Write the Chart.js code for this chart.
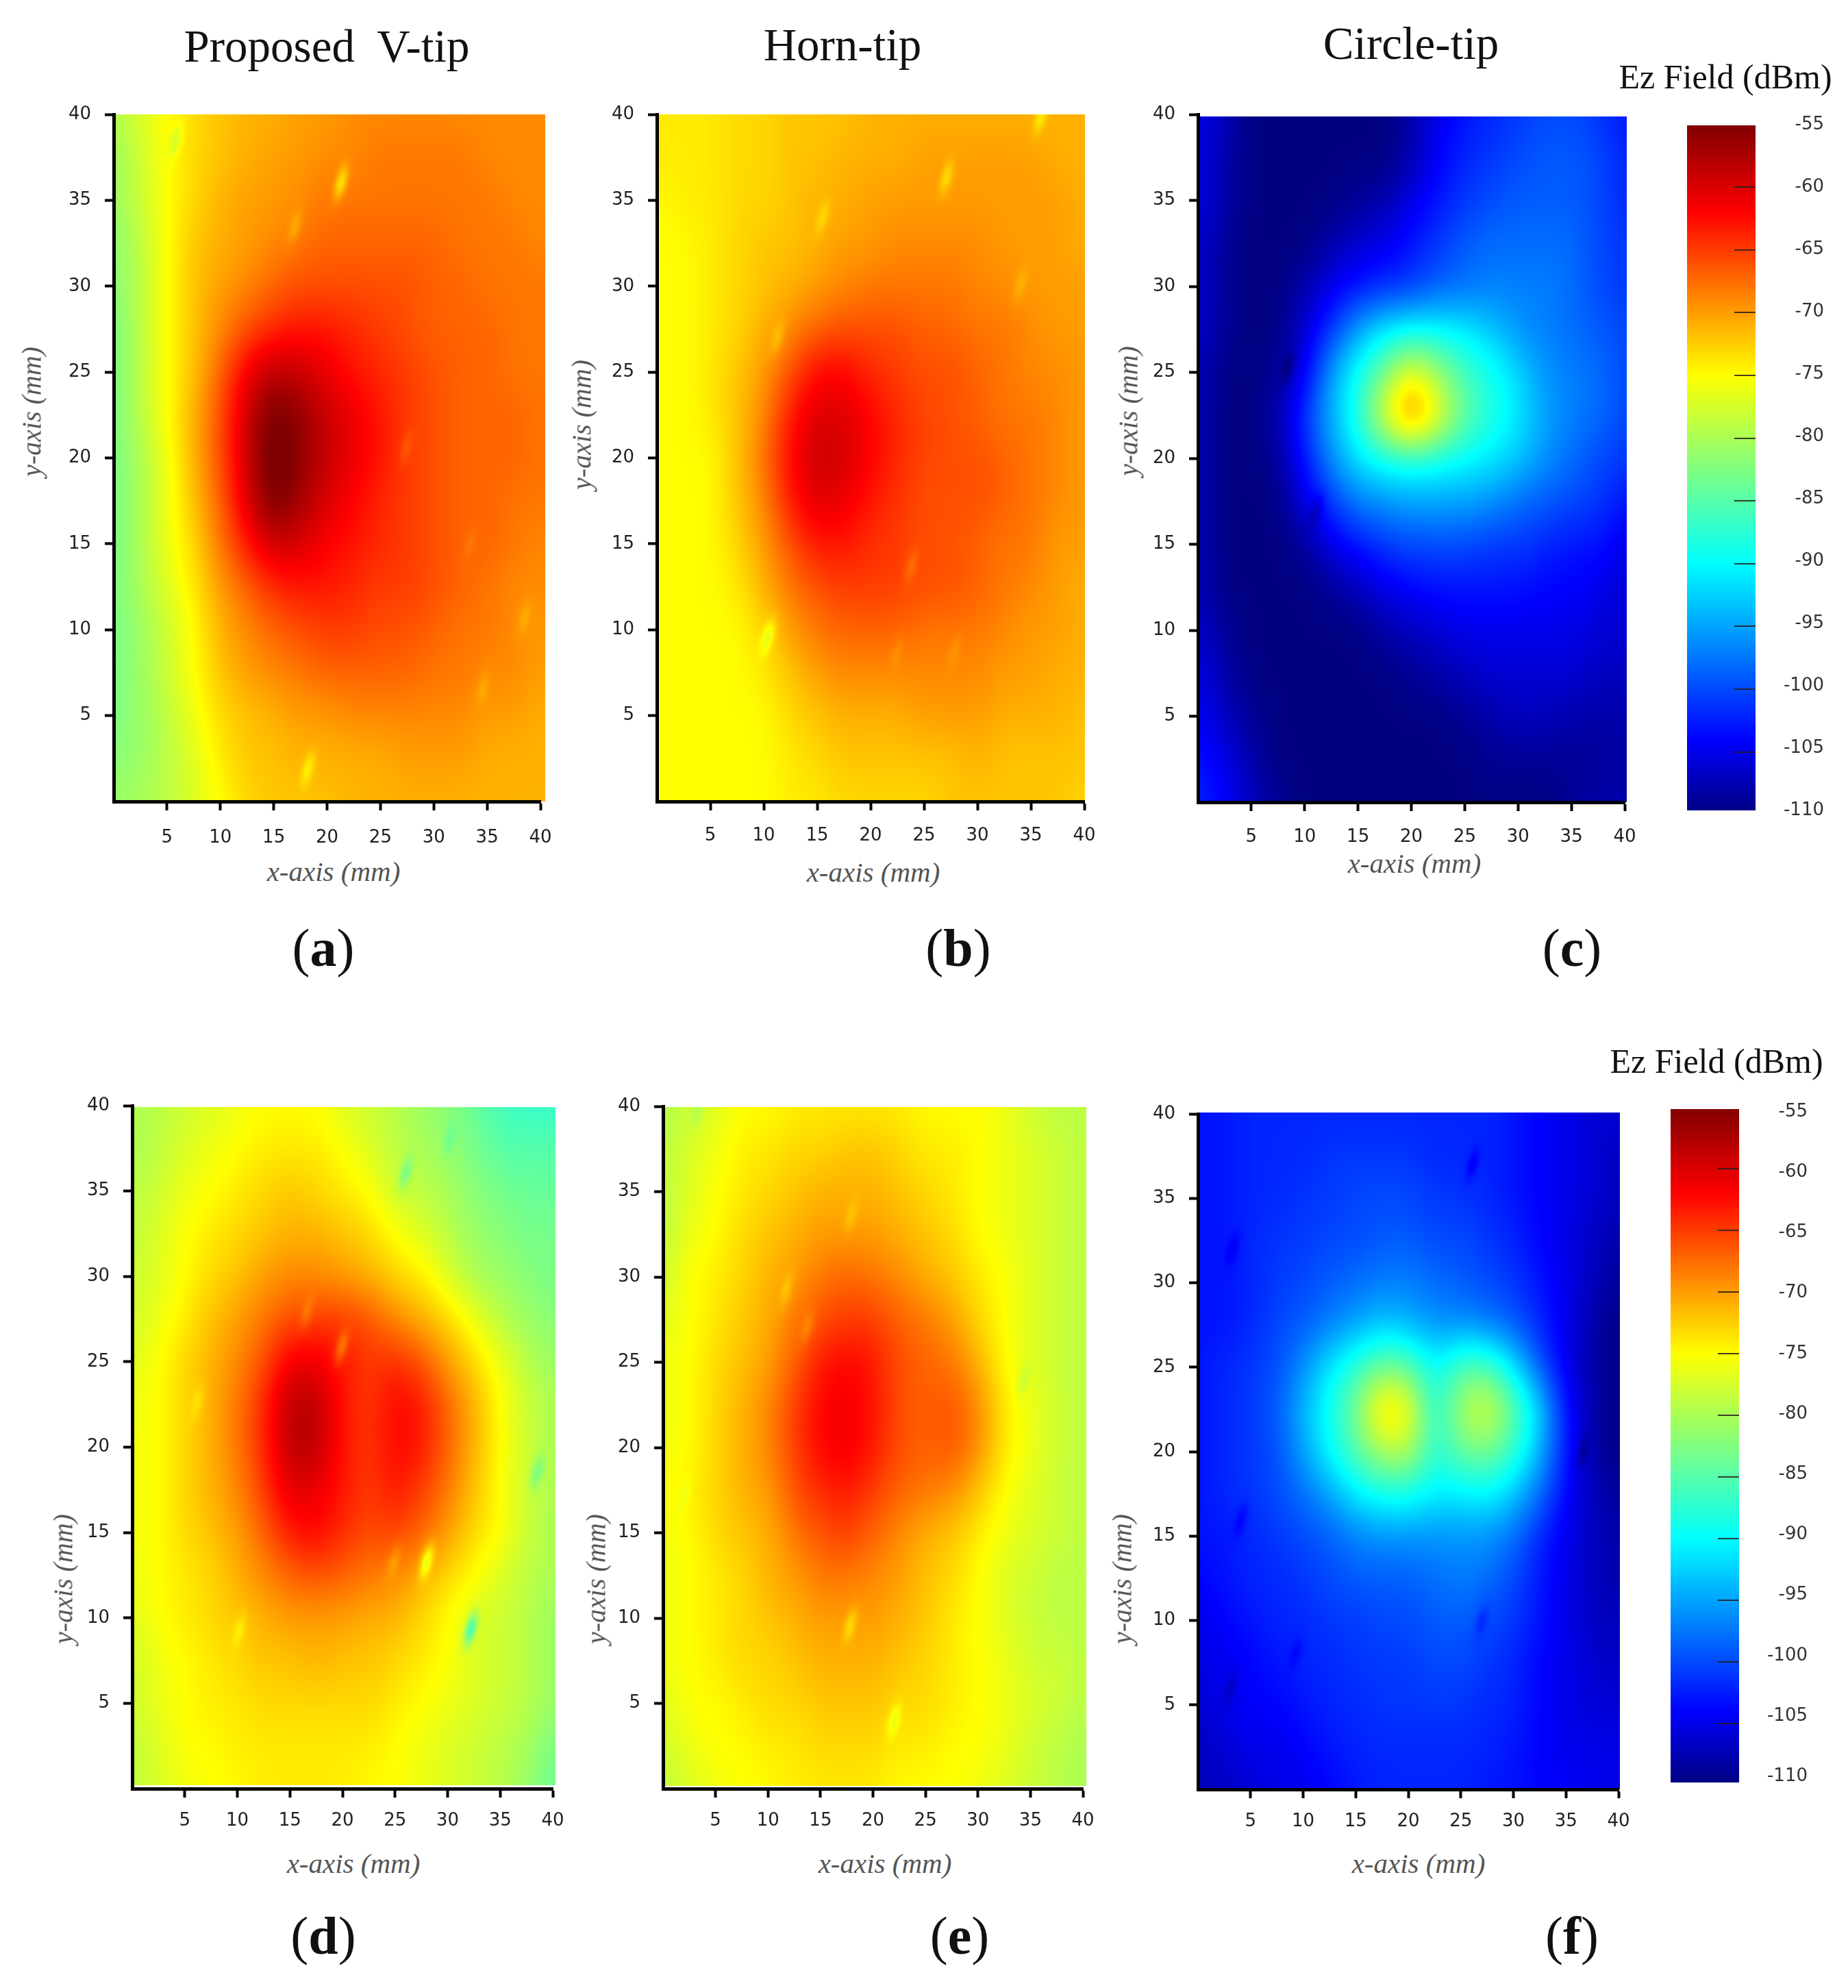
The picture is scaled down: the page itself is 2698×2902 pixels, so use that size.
<!DOCTYPE html>
<html>
<head>
<meta charset="utf-8">
<title>Ez field maps</title>
<script src="https://cdn.jsdelivr.net/npm/chart.js@4"></script>
<style>
    html, body { margin: 0; background: #fff; }
    #page { position: relative; width: 2698px; height: 2902px; overflow: hidden; }
    canvas { position: absolute; }
    .txt { position: absolute; transform: translate(-50%, -50%); white-space: pre; font-family: "Liberation Serif", serif; color: #111; }
    .axis { font-style: italic; color: #555; }
    .rot { transform: translate(-50%, -50%) rotate(-90deg); }
</style>
</head>
<body>
<div id="page"></div>
<script>
// grid positions in mm, rows run from y=40 down to y=0
const gridXs = [0, 2.5, 5, 7.5, 10, 12.5, 15, 17.5, 20, 22.5, 25, 27.5, 30, 32.5, 35, 37.5, 40];
const gridYs = [40, 37.5, 35, 32.5, 30, 27.5, 25, 22.5, 20, 17.5, 15, 12.5, 10, 7.5, 5, 2.5, 0];
const tickValues = [5, 10, 15, 20, 25, 30, 35, 40];
const barTicks = [-60, -65, -70, -75, -80, -85, -90, -95, -100, -105];
const barLabels = [-55, -60, -65, -70, -75, -80, -85, -90, -95, -100, -105, -110];
const captions = ['a', 'b', 'c', 'd', 'e', 'f'];
const columnTitles = ['Proposed  V-tip', 'Horn-tip', 'Circle-tip'];

// colour bar stops: dBm, r, g, b
const stopValues = [-110, -104, -90, -82.5, -75, -62, -55];
const stopColors = [[0, 0, 127], [0, 0, 255], [0, 255, 255], [128, 255, 128], [255, 255, 0], [255, 0, 0], [127, 0, 0]];

// field values in dBm
const gridA = [
    [-80,-77,-75,-73,-72,-71,-71,-70,-70,-69,-69,-69,-69,-69,-69,-69,-69],
    [-81,-78,-75,-73,-72,-71,-70,-70,-69,-69,-68,-68,-68,-68,-69,-69,-69],
    [-81,-78,-75,-73,-71,-70,-70,-69,-68,-68,-68,-68,-68,-68,-68,-69,-69],
    [-82,-79,-75,-72,-71,-70,-69,-68,-67,-67,-67,-67,-67,-68,-68,-68,-69],
    [-82,-79,-75,-72,-70,-69,-67,-66,-66,-66,-66,-66,-67,-67,-68,-68,-68],
    [-83,-79,-75,-72,-69,-66,-64,-63,-63,-64,-65,-66,-67,-67,-67,-68,-68],
    [-83,-79,-75,-72,-67,-61,-58,-59,-61,-63,-64,-65,-66,-67,-67,-68,-68],
    [-83,-79,-75,-71,-66,-59,-54,-56,-59,-61,-63,-65,-66,-67,-67,-67,-68],
    [-83,-80,-76,-71,-66,-59,-53,-56,-59,-61,-63,-65,-66,-67,-67,-67,-68],
    [-83,-80,-76,-72,-67,-60,-54,-57,-60,-62,-64,-65,-66,-67,-67,-68,-68],
    [-83,-80,-76,-73,-68,-63,-59,-60,-62,-63,-64,-65,-66,-67,-67,-68,-69],
    [-83,-80,-77,-74,-70,-67,-64,-63,-63,-64,-65,-65,-66,-67,-68,-69,-69],
    [-83,-81,-78,-75,-71,-69,-67,-66,-65,-65,-66,-66,-67,-68,-68,-69,-70],
    [-83,-81,-78,-75,-72,-70,-69,-68,-67,-67,-67,-67,-68,-68,-69,-69,-70],
    [-83,-81,-79,-76,-73,-72,-71,-70,-70,-69,-69,-69,-69,-69,-70,-70,-71],
    [-82,-81,-79,-77,-74,-72,-72,-71,-71,-71,-71,-70,-70,-70,-71,-71,-71],
    [-81,-80,-79,-77,-75,-73,-72,-72,-72,-71,-71,-71,-71,-71,-71,-71,-71]
];
const gridB = [
    [-74,-74,-74,-73,-73,-72,-72,-72,-71,-71,-71,-71,-71,-71,-71,-71,-71],
    [-74,-74,-74,-73,-73,-72,-72,-71,-71,-71,-70,-70,-70,-70,-70,-71,-71],
    [-75,-74,-74,-73,-73,-72,-71,-71,-70,-70,-70,-70,-70,-70,-70,-70,-71],
    [-75,-75,-74,-73,-72,-72,-71,-70,-70,-69,-69,-69,-69,-70,-70,-70,-71],
    [-75,-75,-74,-73,-72,-71,-70,-69,-68,-68,-68,-68,-69,-69,-70,-70,-70],
    [-75,-75,-74,-73,-71,-69,-67,-66,-66,-66,-67,-67,-68,-68,-69,-70,-70],
    [-75,-75,-74,-72,-70,-66,-62,-62,-64,-65,-66,-66,-67,-68,-69,-69,-70],
    [-75,-75,-74,-72,-69,-63,-60,-60,-62,-64,-65.5,-66,-67,-68,-68,-69,-70],
    [-75,-75,-75,-72,-68,-62,-59,-59.5,-62,-64,-65.5,-66,-66,-67,-68,-69,-70],
    [-75,-75,-75,-72,-69,-63,-60,-61,-63,-64.5,-66,-66,-66,-67,-68,-69,-70],
    [-75,-75,-75,-73,-70,-66,-63,-63,-64.5,-65,-66,-66,-67,-68,-68,-70,-70],
    [-75,-75,-75,-74,-71,-68,-66,-65,-65,-65,-66,-66,-67,-68,-69,-70,-71],
    [-75,-75,-75,-75,-73,-70,-68,-67,-67,-67,-68,-68,-68,-69,-70,-70,-71],
    [-75,-75,-75,-75,-74,-72,-70,-69,-69,-69,-69,-69,-69,-70,-70,-71,-71],
    [-75,-75,-75,-75,-75,-73,-72,-71,-71,-71,-70,-70,-70,-71,-71,-71,-72],
    [-75,-75,-75,-75,-75,-74,-73,-72,-72,-72,-72,-72,-71,-72,-72,-72,-72],
    [-75,-75,-75,-75,-75,-74,-74,-73,-73,-73,-73,-72,-72,-72,-72,-72,-73]
];
const gridC = [
    [-105,-107,-110,-110,-110,-110,-110,-110,-108,-105,-103,-102,-101,-100,-100,-101,-103],
    [-105,-108,-110,-110,-110,-110,-110,-110,-108,-104,-102,-101,-100,-99,-99,-100,-102],
    [-105,-108,-110,-110,-110,-110,-109,-108,-105,-103,-101,-100,-99,-99,-99,-100,-102],
    [-106,-109,-110,-110,-110,-108,-106,-105,-103,-101,-99,-98,-98,-98,-98,-100,-101],
    [-106,-109,-110,-110,-108,-105,-103,-102,-101,-99,-98,-97,-97,-97,-98,-100,-101],
    [-106,-109,-110,-110,-106,-101,-95,-91,-90,-90,-91,-93,-96,-97,-98,-99,-100],
    [-107,-110,-110,-109,-105,-95,-89,-83,-75,-81,-86,-89,-92,-96,-97,-98,-100],
    [-107,-110,-110,-108,-101,-94,-88,-76,-66,-75,-84,-88,-91,-95,-97,-98,-100],
    [-107,-110,-110,-109,-103,-96,-91,-89,-88,-89,-90,-91,-93,-96,-98,-100,-101],
    [-107,-110,-110,-110,-105,-101,-97,-96,-95,-95,-95,-96,-98,-99,-100,-101,-103],
    [-107,-110,-110,-110,-109,-105,-103,-101,-100,-100,-100,-101,-101,-102,-103,-103,-105],
    [-107,-110,-110,-110,-110,-109,-107,-105,-104,-103,-103,-103,-103,-104,-104,-105,-106],
    [-106,-109,-110,-110,-110,-110,-110,-108,-107,-106,-105,-105,-105,-105,-105,-106,-106],
    [-105,-108,-110,-110,-110,-110,-110,-110,-109,-108,-107,-106,-106,-106,-106,-107,-107],
    [-104,-107,-109,-110,-110,-110,-110,-110,-110,-110,-109,-108,-107,-107,-108,-108,-108],
    [-103,-105,-108,-110,-110,-110,-110,-110,-110,-110,-110,-109,-109,-109,-109,-109,-108],
    [-102,-104,-107,-109,-110,-110,-110,-110,-110,-110,-110,-110,-110,-110,-109,-108,-108]
];
const gridD = [
    [-80,-79,-78,-77,-76,-75,-75,-75,-77,-78,-79,-81,-82,-84,-86,-87,-87],
    [-80,-79,-77,-76,-75,-74,-74,-74,-75,-77,-79,-80,-81,-83,-85,-85,-85],
    [-79,-78,-76,-75,-74,-73,-72,-73,-74,-75,-78,-79,-80,-82,-83,-84,-84],
    [-79,-77,-75,-74,-73,-72,-71,-71,-72,-73,-75,-77,-79,-81,-82,-83,-83],
    [-78,-77,-75,-73,-72,-70,-69,-69,-70,-71,-73,-74,-77,-80,-81,-82,-83],
    [-78,-76,-74,-72,-70,-68,-66,-65,-65,-66,-69,-71,-73,-76,-79,-81,-82],
    [-77,-75,-73,-71,-69,-66,-61,-61,-63,-65,-64,-66,-70,-73,-76,-79,-81],
    [-76,-75,-73,-71,-68,-64,-58,-58,-63,-65,-62,-63,-67,-71,-75,-78,-80],
    [-76,-75,-73,-71,-68,-64,-58,-58,-63,-65,-62,-63,-67,-71,-75,-78,-80],
    [-76,-75,-73,-71,-69,-65,-60,-61,-63,-65,-63,-65,-68,-72,-75,-78,-80],
    [-76,-75,-73,-72,-70,-67,-63,-62,-64,-66,-65,-67,-70,-73,-75,-78,-80],
    [-76,-75,-74,-73,-71,-69,-67,-66,-67,-68,-69,-71,-73,-75,-77,-79,-80],
    [-77,-75,-74,-73,-72,-71,-70,-70,-70,-71,-71,-73,-75,-77,-78,-79,-81],
    [-78,-76,-75,-74,-73,-72,-72,-71,-72,-72,-73,-74,-75,-77,-78,-79,-81],
    [-78,-76,-75,-74,-74,-73,-73,-73,-73,-73,-74,-75,-76,-77,-78,-79,-81],
    [-79,-77,-75,-75,-74,-74,-74,-74,-74,-74,-75,-76,-77,-78,-79,-80,-83],
    [-79,-77,-76,-75,-75,-74,-74,-74,-74,-75,-75,-76,-77,-78,-79,-81,-84]
];
const gridE = [
    [-80,-78,-77,-75,-75,-74,-74,-74,-74,-74,-75,-75,-75,-76,-78,-79,-79],
    [-79,-77,-76,-74,-74,-73,-73,-72,-72,-73,-74,-74,-75,-76,-77,-78,-79],
    [-79,-77,-75,-74,-73,-72,-71,-71,-71,-72,-73,-74,-75,-76,-77,-78,-79],
    [-79,-76,-75,-73,-72,-71,-70,-70,-70,-71,-72,-73,-75,-76,-77,-78,-79],
    [-78,-75,-74,-73,-71,-70,-68,-67,-68,-69,-71,-72,-74,-75,-77,-78,-79],
    [-77,-75,-74,-72,-71,-68,-66,-65,-65,-67,-68,-70,-73,-75,-77,-78,-79],
    [-76,-75,-73,-72,-70,-67,-63,-62,-63,-66,-67,-68,-71,-75,-77,-78,-79],
    [-76,-75,-73,-71,-69,-65,-62,-61,-63,-66,-67,-66,-69,-74,-76,-78,-79],
    [-76,-75,-73,-71,-69,-65,-62,-61,-63,-66,-67,-66,-69,-74,-76,-78,-79],
    [-75,-74,-73,-71,-70,-66,-64,-63,-65,-67,-68,-69,-72,-75,-77,-78,-79],
    [-76,-75,-73,-72,-71,-68,-66,-65,-67,-69,-71,-72,-74,-76,-77,-78,-79],
    [-76,-75,-74,-73,-71,-70,-68,-68,-69,-70,-72,-73,-75,-77,-78,-79,-79],
    [-76,-75,-74,-73,-72,-71,-70,-70,-70,-71,-72,-74,-75,-77,-78,-79,-79],
    [-76,-75,-74,-73,-73,-72,-71,-71,-71,-72,-73,-74,-75,-76,-78,-78,-79],
    [-77,-75,-75,-74,-73,-73,-72,-72,-72,-73,-73,-74,-75,-76,-77,-78,-79],
    [-78,-76,-75,-75,-74,-74,-73,-73,-73,-74,-74,-75,-75,-76,-78,-79,-80],
    [-79,-77,-76,-75,-75,-74,-74,-74,-74,-75,-75,-75,-76,-77,-78,-79,-80]
];
const gridF = [
    [-103,-103,-102,-102,-102,-102,-102,-102,-102,-102,-102,-102,-103,-104,-105,-106,-106],
    [-103,-103,-102,-102,-102,-101,-101,-101,-101,-102,-102,-102,-103,-104,-105,-106,-107],
    [-103,-103,-102,-102,-101,-101,-100,-100,-100,-101,-101,-102,-103,-104,-105,-106,-107],
    [-103,-103,-102,-101,-101,-100,-100,-99,-99,-100,-100,-101,-102,-104,-105,-107,-108],
    [-103,-103,-102,-101,-100,-99,-98,-97,-97,-98,-99,-100,-101,-103,-105,-107,-109],
    [-103,-103,-102,-100,-99,-97,-95,-93,-94,-96,-96,-97,-99,-102,-105,-108,-110],
    [-103,-102,-101,-100,-96,-91,-87,-83,-84,-90,-85,-85,-91,-99,-105,-108,-110],
    [-103,-102,-101,-99,-94,-89,-83,-72,-74,-89,-80,-76,-84,-92,-103,-108,-110],
    [-103,-102,-101,-100,-95,-90,-85,-80,-79,-88,-84,-83,-87,-94,-103,-108,-110],
    [-103,-102,-101,-100,-98,-95,-91,-89,-89,-91,-91,-90,-93,-98,-104,-107,-109],
    [-103,-103,-102,-101,-100,-99,-97,-96,-96,-96,-96,-96,-98,-102,-105,-107,-108],
    [-104,-103,-102,-102,-101,-100,-99,-99,-99,-98,-97,-98,-100,-103,-105,-107,-108],
    [-105,-104,-103,-102,-102,-101,-101,-100,-100,-99,-99,-100,-101,-103,-105,-107,-107],
    [-105,-105,-104,-103,-102,-102,-101,-101,-101,-100,-100,-101,-102,-104,-105,-106,-107],
    [-106,-105,-104,-104,-103,-102,-102,-101,-101,-101,-101,-102,-102,-104,-105,-106,-106],
    [-107,-106,-105,-105,-104,-103,-102,-102,-102,-102,-102,-102,-103,-104,-105,-105,-105],
    [-107,-107,-106,-105,-105,-104,-103,-102,-102,-102,-102,-103,-103,-104,-104,-105,-105]
];

// small specks on the maps: x mm, y mm, change in dBm
const specksA = [[21.3,36,-5],[5.8,38.5,-3],[18.2,1.9,-3],[17,33.5,-2],[27.4,20.6,-1.5],[38.5,10.7,-1.5],[34.6,6.6,-1.5],[33.4,15,-1]];
const specksB = [[27.1,36.3,-3],[15.5,34,-2],[10.4,9.6,-4],[11.3,27,-2],[23.8,13.7,-2],[34,30,-1.5],[22.5,8.7,-1],[27.9,8.8,-1],[35.9,39.8,-3]];
const specksC = [[8.4,25.3,-2.5],[11.1,17,-2.5]];
const specksD = [[26,36,-4],[28,13.3,-6],[32.2,9.3,-9],[38.5,18.5,-4],[10.2,9.3,-2],[19.9,25.8,-4],[6.2,22.6,-1.5],[16.6,27.8,-2],[24.9,13.3,-2],[30.2,38,-2]];
const specksE = [[17.8,9.6,-3],[22,4,-3],[11.7,29.2,-2],[13.7,27,-2],[17.9,33.6,-1.5],[34.3,23.9,-2],[2,17.2,-1.5],[3.3,39.7,-2]];
const specksF = [[26.1,37,-2.5],[3.3,32,-2],[36.6,20,-2.5],[3.1,6,-2],[4.1,16,-2],[27,10,-2],[9.3,8.1,-1.5]];

const page = document.getElementById('page');
const tickFont = { family: '"DejaVu Sans", sans-serif', size: 26 };
const padL = 130, padB = 70, padT = 20, padR = 40;

function addText(html, x, y, size, cls) {
    const el = document.createElement('div');
    el.className = 'txt ' + (cls || '');
    el.style.left = x + 'px';
    el.style.top = y + 'px';
    el.style.fontSize = size + 'px';
    el.innerHTML = html;
    page.appendChild(el);
}

function addCanvas(left, top, width, height) {
    const c = document.createElement('canvas');
    c.width = width;
    c.height = height;
    c.style.left = left + 'px';
    c.style.top = top + 'px';
    page.appendChild(c);
    return c;
}

function colorFor(v) {
    if (v <= stopValues[0]) return stopColors[0];
    for (let i = 1; i < stopValues.length; i++) {
        if (v <= stopValues[i]) {
            const t = (v - stopValues[i - 1]) / (stopValues[i] - stopValues[i - 1]);
            const a = stopColors[i - 1], b = stopColors[i];
            return [a[0] + (b[0] - a[0]) * t, a[1] + (b[1] - a[1]) * t, a[2] + (b[2] - a[2]) * t];
        }
    }
    return stopColors[stopColors.length - 1];
}

// cubic b-spline weights, keeps the maps free of ripples
function spline(a, b, c, d, t) {
    const s = 1 - t;
    return (s * s * s * a + (3 * t * t * t - 6 * t * t + 4) * b + (-3 * t * t * t + 3 * t * t + 3 * t + 1) * c + t * t * t * d) / 6;
}

// smooth value between grid points, the points come from the dataset
function fieldAt(points, specks, x, y) {
    const cols = gridXs.length, rows = gridYs.length;
    const u = (x - gridXs[0]) / (gridXs[1] - gridXs[0]);
    const w = (gridYs[0] - y) / (gridYs[0] - gridYs[1]);
    const i = Math.min(Math.max(Math.floor(u), 0), cols - 2);
    const j = Math.min(Math.max(Math.floor(w), 0), rows - 2);
    const tu = Math.min(u - i, 1), tw = Math.max(Math.min(w - j, 1), 0);
    const at = (a, b) => points[Math.min(Math.max(b, 0), rows - 1) * cols + Math.min(Math.max(a, 0), cols - 1)].v;
    const r = [];
    for (let k = -1; k <= 2; k++) {
        r.push(spline(at(i - 1, j + k), at(i, j + k), at(i + 1, j + k), at(i + 2, j + k), tu));
    }
    let v = spline(r[0], r[1], r[2], r[3], tw);
    for (const s of specks) {
        const dy = y - s[1], dx = x - s[0] - 0.35 * dy;
        const e = (dx * dx) / 0.3 + (dy * dy) / 0.9;
        if (e < 9) v += s[2] * Math.exp(-e);
    }
    return v;
}

function fillPixels(ctx, x0, y0, x1, y1, valueAt) {
    const w = Math.round(x1 - x0), h = Math.round(y1 - y0);
    const img = ctx.createImageData(w, h);
    let n = 0;
    for (let py = 0; py < h; py++) {
        for (let px = 0; px < w; px++) {
            const c = colorFor(valueAt(x0 + px + 0.5, y0 + py + 0.5));
            img.data[n++] = c[0];
            img.data[n++] = c[1];
            img.data[n++] = c[2];
            img.data[n++] = 255;
        }
    }
    ctx.putImageData(img, Math.round(x0), Math.round(y0));
}

// the scales must not ask for room around the chart area
function noPadding(s) {
    s.paddingTop = 0;
    s.paddingBottom = 0;
    s.paddingLeft = 0;
    s.paddingRight = 0;
}

function addMap(p) {
    const width = padL + Math.ceil(p.x40 - p.x0) + padR;
    const height = padT + Math.ceil(p.y0 - p.y40) + padB;
    const canvas = addCanvas(p.x0 - padL, p.y40 - padT, width, height);
    const points = [];
    gridYs.forEach((y, j) => gridXs.forEach((x, i) => points.push({ x: x, y: y, v: p.grid[j][i] })));
    const heat = {
        id: 'heat',
        beforeDraw(chart) {
            const sx = chart.scales.x, sy = chart.scales.y;
            const data = chart.data.datasets[0].data;
            fillPixels(chart.ctx, sx.getPixelForValue(p.xRange[0]), sy.getPixelForValue(p.yRange[1]),
                sx.getPixelForValue(p.xRange[1]), sy.getPixelForValue(p.yRange[0]),
                (px, py) => fieldAt(data, p.specks, sx.getValueForPixel(px), sy.getValueForPixel(py)));
        }
    };
    const axis = (labelPad) => ({
        type: 'linear', min: 0, max: 40,
        afterBuildTicks(scale) { scale.ticks = tickValues.map(v => ({ value: v })); },
        grid: { drawOnChartArea: false, drawTicks: true, tickLength: 13, tickWidth: 4, tickColor: '#000' },
        border: { display: true, color: '#000', width: 5 },
        ticks: { font: tickFont, color: '#222', padding: labelPad, autoSkip: false, maxRotation: 0 }
    });
    new Chart(canvas, {
        type: 'scatter',
        data: { datasets: [{ data: points, pointRadius: 0, showLine: false }] },
        options: {
            responsive: false,
            animation: false,
            events: [],
            layout: { autoPadding: false, padding: { top: padT, right: padR, left: 0, bottom: 0 } },
            plugins: { legend: { display: false }, tooltip: { enabled: false } },
            scales: {
                x: Object.assign(axis(p.xPad), { afterFit(s) { s.height = padB; noPadding(s); } }),
                y: Object.assign(axis(20), { afterFit(s) { s.width = padL; noPadding(s); } })
            }
        },
        plugins: [heat]
    });
}

function addBar(b) {
    const barW = b.right - b.left, labelW = 100, extra = 20;
    const canvas = addCanvas(b.left, b.top - extra, barW + labelW, b.bottom - b.top + extra * 2);
    const bar = {
        id: 'bar',
        beforeDraw(chart) {
            const sy = chart.scales.y, ctx = chart.ctx, area = chart.chartArea;
            fillPixels(ctx, area.left, area.top, area.right, area.bottom, (px, py) => sy.getValueForPixel(py));
        },
        afterDraw(chart) {
            const sy = chart.scales.y, ctx = chart.ctx, area = chart.chartArea;
            ctx.strokeStyle = 'rgba(40,30,30,0.85)';
            ctx.lineWidth = 2;
            barTicks.forEach(v => {
                const py = Math.round(sy.getPixelForValue(v));
                ctx.beginPath();
                ctx.moveTo(area.right - 31, py);
                ctx.lineTo(area.right, py);
                ctx.stroke();
            });
        }
    };
    new Chart(canvas, {
        type: 'scatter',
        data: { datasets: [{ data: barLabels.map(v => ({ x: 0, y: v })), pointRadius: 0 }] },
        options: {
            responsive: false,
            animation: false,
            events: [],
            layout: { autoPadding: false, padding: { top: extra, bottom: extra, left: 0, right: 0 } },
            plugins: { legend: { display: false }, tooltip: { enabled: false } },
            scales: {
                x: { display: false, min: 0, max: 1 },
                y: { display: false, min: b.range[0], max: b.range[1] },
                yLabels: {
                    position: 'right', min: b.labelRange[0], max: b.labelRange[1],
                    afterBuildTicks(scale) { scale.ticks = barLabels.map(v => ({ value: v })); },
                    afterFit(s) { s.width = labelW; noPadding(s); },
                    grid: { display: false, drawTicks: false },
                    border: { display: false },
                    ticks: { font: tickFont, color: '#333', padding: 15, crossAlign: 'far', autoSkip: false, maxRotation: 0 }
                }
            }
        },
        plugins: [bar]
    });
}

const maps = [
    { grid: gridA, specks: specksA, x0: 165.5, x40: 787.6, y40: 167, y0: 1170, xRange: [0, 40.47], yRange: [0, 40], xPad: 25 },
    { grid: gridB, specks: specksB, x0: 958.5, x40: 1582, y40: 166.7, y0: 1169, xRange: [0, 40.05], yRange: [0, 40], xPad: 22 },
    { grid: gridC, specks: specksC, x0: 1748.7, x40: 2371, y40: 167, y0: 1171, xRange: [0, 40.2], yRange: [0, 39.9], xPad: 23 },
    { grid: gridD, specks: specksD, x0: 193.3, x40: 807, y40: 1614, y0: 2611, xRange: [0.2, 40.27], yRange: [0.2, 39.9], xPad: 19 },
    { grid: gridE, specks: specksE, x0: 968.4, x40: 1581, y40: 1615, y0: 2611, xRange: [0.1, 40.3], yRange: [0.15, 39.95], xPad: 19 },
    { grid: gridF, specks: specksF, x0: 1748.8, x40: 2362.2, y40: 1625.6, y0: 2611, xRange: [0, 40.1], yRange: [0, 40.1], xPad: 19 }
];
maps.forEach(addMap);

addBar({ left: 2463, right: 2563, top: 183, bottom: 1183, range: [-109.66, -55.08], labelRange: [-110, -55.05] });
addBar({ left: 2439, right: 2539, top: 1619, bottom: 2602, range: [-109.8, -55.17], labelRange: [-110.5, -54.77] });

// titles and captions
const titleX = [477, 1230, 2060];
const titleY = [67, 65, 63];
columnTitles.forEach((t, i) => addText(t, titleX[i], titleY[i], 67));
addText('Ez Field (dBm)', 2519, 112, 50, '');
addText('Ez Field (dBm)', 2506, 1549, 50, '');

const xTitlePos = [[487, 1272], [1275, 1273], [2065, 1260], [516, 2720], [1292, 2720], [2071, 2720]];
const yTitlePos = [[46, 601], [849, 620], [1647, 600], [92, 2305], [870, 2305], [1638, 2305]];
xTitlePos.forEach(q => addText('x-axis (mm)', q[0], q[1], 41, 'axis'));
yTitlePos.forEach(q => addText('y-axis (mm)', q[0], q[1], 40, 'axis rot'));

const capPos = [[472, 1384], [1399, 1384], [2295, 1384], [472, 2826], [1401, 2826], [2295, 2826]];
captions.forEach((c, i) => addText('(<b>' + c + '</b>)', capPos[i][0], capPos[i][1], 78));
</script>
</body>
</html>
